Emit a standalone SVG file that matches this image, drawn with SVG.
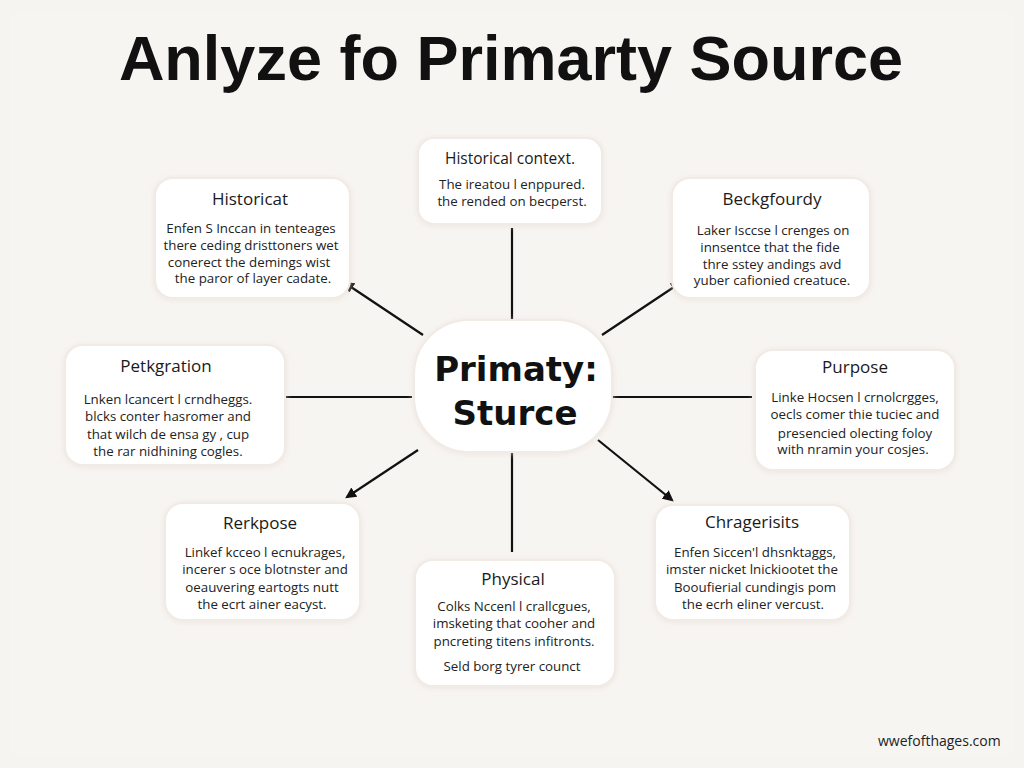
<svg xmlns="http://www.w3.org/2000/svg" width="1024" height="768" viewBox="0 0 1024 768">
<defs>
<style>
.bg{fill:#f6f4f1}
.box{fill:#ffffff;stroke:#f1ebe6;stroke-width:2}
.title{font-family:"Liberation Sans",Arial,sans-serif;font-weight:bold;font-size:63px;fill:#111;text-anchor:middle}
.nt{font-family:"Open Sans","Liberation Sans",sans-serif;font-size:17px;fill:#1a1a1a;text-anchor:middle}
.bt{font-family:"Open Sans","Liberation Sans",sans-serif;font-size:13.3px;fill:#222;text-anchor:middle}
.ct{font-family:"DejaVu Sans","Liberation Sans",sans-serif;font-weight:bold;font-size:34px;fill:#111;text-anchor:middle}
.ln{stroke:#111;stroke-width:2.2;fill:none}
.wm{font-family:"Open Sans","Liberation Sans",sans-serif;font-size:14px;fill:#222}
</style>
<marker id="ah" viewBox="0 0 10 10" refX="8" refY="5" markerWidth="5" markerHeight="5" orient="auto-start-reverse">
<path d="M0,0 L10,5 L0,10 z" fill="#111"/>
</marker>
<filter id="sh" x="-10%" y="-10%" width="120%" height="130%">
<feDropShadow dx="0" dy="1" stdDeviation="3" flood-color="#e8d8d0" flood-opacity="0.6"/>
</filter>
</defs>
<rect class="bg" x="0" y="0" width="1024" height="768"/>
<rect x="10" y="10" width="1004" height="748" fill="#f7f5f2"/>
<text class="title" x="511" y="80">Anlyze fo Primarty Source</text>

<g id="connectors">
<line class="ln" x1="512" y1="228" x2="512" y2="322"/>
<line class="ln" x1="423" y1="335" x2="345" y2="283" marker-end="url(#ah)"/>
<line class="ln" x1="602" y1="335" x2="680" y2="283" marker-end="url(#ah)"/>
<line class="ln" x1="272" y1="397" x2="412" y2="397"/>
<line class="ln" x1="612" y1="397" x2="752" y2="397"/>
<line class="ln" x1="418" y1="450" x2="347" y2="497" marker-end="url(#ah)"/>
<line class="ln" x1="512" y1="452" x2="512" y2="552"/>
<line class="ln" x1="598" y1="440" x2="672" y2="500" marker-end="url(#ah)"/>
</g>

<g id="center">
<rect class="box" x="414" y="320" width="198" height="132" rx="55" filter="url(#sh)"/>
<text class="ct" x="516" y="381">Primaty:</text>
<text class="ct" x="515" y="425">Sturce</text>
</g>

<g id="n-context">
<rect class="box" x="418" y="138" width="184" height="86" rx="16" filter="url(#sh)"/>
<text class="nt" x="510" y="164" style="font-size:15.5px">Historical context.</text>
<text class="bt" x="512" y="189">The ireatou l enppured.</text>
<text class="bt" x="512" y="206">the rended on becperst.</text>
</g>

<g id="n-historicat">
<rect class="box" x="155" y="178" width="195" height="120" rx="18" filter="url(#sh)"/>
<text class="nt" x="250" y="205">Historicat</text>
<text class="bt" x="251" y="233">Enfen S Inccan in tenteages</text>
<text class="bt" x="251" y="250">there ceding dristtoners wet</text>
<text class="bt" x="249" y="267">conerect the demings wist</text>
<text class="bt" x="253" y="283">the paror of layer cadate.</text>
</g>

<g id="n-beck">
<rect class="box" x="672" y="178" width="198" height="120" rx="18" filter="url(#sh)"/>
<text class="nt" x="772" y="205">Beckgfourdy</text>
<text class="bt" x="773" y="235">Laker Isccse l crenges on</text>
<text class="bt" x="770" y="252">innsentce that the fide</text>
<text class="bt" x="772" y="269">thre sstey andings avd</text>
<text class="bt" x="772" y="285">yuber cafionied creatuce.</text>
</g>

<g id="n-petk">
<rect class="box" x="65" y="345" width="220" height="120" rx="18" filter="url(#sh)"/>
<text class="nt" x="166" y="372">Petkgration</text>
<text class="bt" x="168" y="404">Lnken lcancert l crndheggs.</text>
<text class="bt" x="168" y="421">blcks conter hasromer and</text>
<text class="bt" x="168" y="439">that wilch de ensa gy , cup</text>
<text class="bt" x="168" y="456">the rar nidhining cogles.</text>
</g>

<g id="n-purpose">
<rect class="box" x="755" y="350" width="200" height="120" rx="18" filter="url(#sh)"/>
<text class="nt" x="855" y="373">Purpose</text>
<text class="bt" x="855" y="402">Linke Hocsen l crnolcrgges,</text>
<text class="bt" x="855" y="419">oecls comer thie tuciec and</text>
<text class="bt" x="855" y="438">presencied olecting foloy</text>
<text class="bt" x="853" y="454">with nramin your cosjes.</text>
</g>

<g id="n-rerk">
<rect class="box" x="165" y="503" width="195" height="117" rx="18" filter="url(#sh)"/>
<text class="nt" x="260" y="529">Rerkpose</text>
<text class="bt" x="265" y="557">Linkef kcceo l ecnukrages,</text>
<text class="bt" x="265" y="574">incerer s oce blotnster and</text>
<text class="bt" x="262" y="592">oeauvering eartogts nutt</text>
<text class="bt" x="262" y="609">the ecrt ainer  eacyst.</text>
</g>

<g id="n-physical">
<rect class="box" x="415" y="560" width="200" height="126" rx="18" filter="url(#sh)"/>
<text class="nt" x="513" y="585">Physical</text>
<text class="bt" x="514" y="611">Colks Nccenl l crallcgues,</text>
<text class="bt" x="514" y="628">imsketing that cooher and</text>
<text class="bt" x="514" y="646">pncreting titens infitronts.</text>
<text class="bt" x="512" y="671">Seld borg tyrer counct</text>
</g>

<g id="n-chrag">
<rect class="box" x="655" y="505" width="195" height="115" rx="18" filter="url(#sh)"/>
<text class="nt" x="752" y="528">Chragerisits</text>
<text class="bt" x="755" y="557">Enfen Siccen'l dhsnktaggs,</text>
<text class="bt" x="752" y="574">imster nicket lnickiootet the</text>
<text class="bt" x="755" y="592">Booufierial cundingis pom</text>
<text class="bt" x="753" y="609">the ecrh eliner vercust.</text>
</g>

<text class="wm" x="878" y="746">wwefofthages.com</text>
</svg>
